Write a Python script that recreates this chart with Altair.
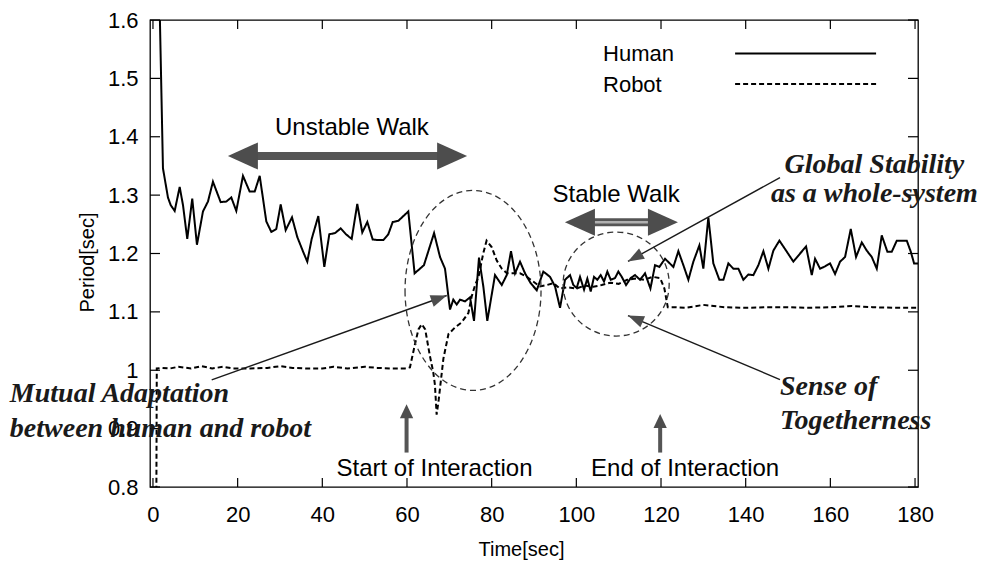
import altair as alt
import pandas as pd

# ---------------- data ----------------
human_t = [1.5, 2.36, 3.54, 4.18, 5.13, 6.31, 7.09, 8.10, 9.28, 10.39, 11.81, 12.99, 14.17, 15.99,
           17.32, 18.50, 19.68, 21.26, 22.84, 24.03, 25.21, 26.77, 27.95, 29.13, 30.17, 31.35,
           32.84, 34.1, 35.5, 36.45, 37.49, 39.05, 40.47, 41.65, 43.0, 44.34, 45.59, 46.94, 48.26,
           49.44, 50.63, 51.9, 53.23, 54.41, 55.59, 56.63, 57.95, 60.31, 61.8, 64.0, 66.4, 67.8,
           68.98, 70.16, 70.94, 71.75, 72.53, 73.71, 74.89, 75.83, 77.01, 78.03, 78.97, 80.79,
           82.38, 83.56, 84.57, 85.52, 86.7, 87.88, 89.23, 90.65, 92.21, 93.79, 94.97, 96.15,
           97.33, 98.51, 99.29, 100.09, 100.87, 101.82, 102.6, 103.4, 104.18, 104.96, 105.76,
           106.54, 107.32, 108.13, 109.14, 109.92, 110.73, 111.74, 112.85, 113.87, 115.05,
           116.23, 117.5, 118.59, 119.61, 120.95, 122.92, 124.1, 125.28, 126.46, 127.64, 129.06,
           130.0, 131.18, 132.36, 133.78, 134.73, 135.91, 137.09, 138.27, 139.45, 140.63, 141.81,
           143.0, 144.18, 145.36, 146.54, 147.96, 149.54, 151.26, 152.85, 154.26, 155.61, 156.39,
           157.57, 158.75, 159.93, 161.11, 162.29, 163.47, 164.82, 166.07, 167.42, 168.6, 169.78,
           170.96, 172.14, 173.47, 174.5, 175.69, 178.05, 179.0, 179.78, 180.7]
human_v = [1.65, 1.346, 1.296, 1.283, 1.273, 1.314, 1.283, 1.225, 1.294, 1.215, 1.272, 1.289, 1.323, 1.288,
           1.289, 1.296, 1.273, 1.333, 1.306, 1.306, 1.333, 1.255, 1.237, 1.242, 1.284, 1.240,
           1.262, 1.228, 1.2025, 1.186, 1.225, 1.264, 1.177, 1.233, 1.235, 1.243, 1.233, 1.225, 1.285,
           1.236, 1.254, 1.224, 1.223, 1.223, 1.233, 1.254, 1.256, 1.272, 1.166, 1.18, 1.235, 1.194,
           1.174, 1.104, 1.121, 1.1125, 1.121, 1.118, 1.125, 1.0845, 1.193, 1.1435, 1.0845, 1.163,
           1.146, 1.163, 1.204, 1.166, 1.186, 1.166, 1.149, 1.137, 1.169, 1.16, 1.1435, 1.107,
           1.155, 1.163, 1.146, 1.141, 1.16, 1.138, 1.157, 1.135, 1.16, 1.155, 1.163,
           1.152, 1.169, 1.155, 1.158, 1.169, 1.16, 1.146, 1.158, 1.163, 1.155,
           1.166, 1.14, 1.18, 1.177, 1.191, 1.177, 1.204, 1.18, 1.155, 1.186, 1.214,
           1.174, 1.262, 1.183, 1.155, 1.155, 1.183, 1.174, 1.174, 1.155, 1.164, 1.163,
           1.18, 1.204, 1.174, 1.205, 1.222, 1.205, 1.186, 1.2, 1.212, 1.163, 1.191,
           1.174, 1.178, 1.183, 1.165, 1.186, 1.194, 1.242, 1.194, 1.219, 1.205, 1.194,
           1.174, 1.231, 1.203, 1.203, 1.222, 1.222, 1.203, 1.183, 1.183]

robot_t = [0.8, 0.9, 2, 4, 6, 9, 11.5, 14, 16.6, 19, 23, 27, 30, 33, 36, 40, 42.6, 46, 50, 53, 56,
           59.5, 60.7, 61.9, 62.7, 63.5, 64.3, 65.4, 66.2, 66.6, 67.0, 67.5, 68.6, 69.8, 71.3,
           72.9, 74.5, 75.3, 76.1, 76.9, 78.0, 78.8, 80.0, 81.2, 82.4, 83.6, 85.1, 86.7, 88.3,
           89.8, 91.4, 93.0, 94.6, 96.1, 98, 100, 102, 104, 106, 108, 110, 112, 114, 116, 118,
           119.8, 120.8, 121.6, 123, 126, 130, 135, 140, 145, 150, 155, 160, 165, 170, 175, 180.7]
robot_v = [0.78, 1.003, 1.004, 1.003, 1.006, 1.003, 1.007, 1.003, 1.006, 1.003, 1.003, 1.004, 1.007,
           1.004, 1.003, 1.003, 1.006, 1.003, 1.006, 1.004, 1.003,
           1.003, 1.005, 1.045, 1.07, 1.079, 1.07, 1.025, 0.997, 0.975, 0.924, 0.95, 1.02, 1.062, 1.073,
           1.082, 1.098, 1.127, 1.146, 1.16, 1.2, 1.222, 1.211, 1.188, 1.174, 1.166, 1.166, 1.166, 1.16,
           1.152, 1.1435, 1.146, 1.149, 1.14, 1.142, 1.14, 1.145, 1.143, 1.146, 1.15, 1.148, 1.155,
           1.157, 1.155, 1.16,
           1.158, 1.14, 1.108, 1.108, 1.107, 1.112, 1.108, 1.107, 1.108, 1.108, 1.107, 1.108, 1.11,
           1.108, 1.107, 1.107]

series_names = ["Human", "Robot"]
x_ticks = [0, 20, 40, 60, 80, 100, 120, 140, 160, 180]
y_ticks = [0.8, 0.9, 1.0, 1.1, 1.2, 1.3, 1.4, 1.5, 1.6]

assert len(human_t) == len(human_v)
assert len(robot_t) == len(robot_v)

# ---------------- layout / style ----------------
W, H = 768, 467
SANS = "Liberation Sans"
SERIF = "Liberation Serif"
GRAY = "#4d4d4d"
xs = alt.Scale(domain=[-0.7, 180.7], nice=False, zero=False)
ys = alt.Scale(domain=[0.8, 1.6], nice=False, zero=False)

x_axis = alt.Axis(
    values=x_ticks, title="Time[sec]", ticks=False, domain=False, grid=False,
    labelFont=SANS, labelFontSize=22, labelColor="black", labelPadding=17,
    titleFont=SANS, titleFontSize=20, titleFontWeight="normal", titleColor="black",
    titlePadding=14, titleX=371)
y_axis = alt.Axis(
    values=y_ticks, title="Period[sec]", ticks=False, domain=False, grid=False,
    labelExpr="datum.value == 1 ? '1' : format(datum.value, '.1f')",
    labelFont=SANS, labelFontSize=22, labelColor="black", labelPadding=12,
    titleFont=SANS, titleFontSize=20, titleFontWeight="normal", titleColor="black",
    titlePadding=10, titleY=242)
xq = alt.X("t:Q", scale=xs, axis=x_axis)
yq = alt.Y("v:Q", scale=ys, axis=y_axis)

series = pd.DataFrame({
    "t": human_t + robot_t,
    "v": human_v + robot_v,
    "s": [series_names[0]] * len(human_t) + [series_names[1]] * len(robot_t),
})
dash_scale = alt.Scale(domain=series_names, range=[[1, 0], [5, 3]])

lines = alt.Chart(series).mark_line(clip=True, color="black", strokeWidth=2).encode(
    x=xq, y=yq,
    strokeDash=alt.StrokeDash("s:N", scale=dash_scale, legend=None),
    order="t:Q",
)

# inward ticks on all four sides
xt = pd.DataFrame({"t": x_ticks})
yt = pd.DataFrame({"v": y_ticks})
tick_b = alt.Chart(xt).mark_rule(color="black", strokeWidth=1.2).encode(x=xq, y=alt.value(H), y2=alt.value(H - 9))
tick_t = alt.Chart(xt).mark_rule(color="black", strokeWidth=1.2).encode(x=xq, y=alt.value(0), y2=alt.value(9))
tick_l = alt.Chart(yt).mark_rule(color="black", strokeWidth=1.2).encode(y=yq, x=alt.value(0), x2=alt.value(10))
tick_r = alt.Chart(yt).mark_rule(color="black", strokeWidth=1.2).encode(y=yq, x=alt.value(W), x2=alt.value(W - 10))

# ---------------- legend (manual) ----------------
leg_text = pd.DataFrame({"t": [106.3, 106.3], "v": [1.541, 1.489], "label": series_names})
leg_lines = pd.DataFrame({"t": [137.5, 137.5], "t2": [170.8, 170.8], "v": [1.5426, 1.4903], "s": series_names})
legend_txt = alt.Chart(leg_text).mark_text(font=SANS, fontSize=22, align="left", baseline="middle",
                                          color="black").encode(x=xq, y=yq, text="label:N")
legend_ln = alt.Chart(leg_lines).mark_rule(color="black", strokeWidth=2).encode(
    x=xq, x2="t2:Q", y=yq,
    strokeDash=alt.StrokeDash("s:N", scale=dash_scale, legend=None))

# ---------------- annotations ----------------
plain_text = pd.DataFrame({
    "t": [47.0, 109.4, 66.5, 125.7],
    "v": [1.4143, 1.2996, 0.8304, 0.8304],
    "label": ["Unstable Walk", "Stable Walk", "Start of Interaction", "End of Interaction"],
})
plain = alt.Chart(plain_text).mark_text(font=SANS, fontSize=24, align="center", baseline="middle",
                                        color="black").encode(x=xq, y=yq, text="label:N")

bi_left = pd.DataFrame({
    "t": [-33.8, -33.8, 148.1, 148.1],
    "v": [0.9587, 0.8996, 0.972, 0.913],
    "label": ["Mutual Adaptation", "between human and robot", "Sense of", "Togetherness"],
})
bi_center = pd.DataFrame({
    "t": [170.4, 170.4],
    "v": [1.352, 1.3013],
    "label": ["Global Stability", "as a whole-system"],
})
bold_left = alt.Chart(bi_left).mark_text(font=SERIF, fontSize=28, fontStyle="italic", fontWeight="bold",
                                         align="left", baseline="middle", color="#1a1a1a").encode(
    x=xq, y=yq, text="label:N")
bold_center = alt.Chart(bi_center).mark_text(font=SERIF, fontSize=28, fontStyle="italic", fontWeight="bold",
                                             align="center", baseline="middle", color="#1a1a1a").encode(
    x=xq, y=yq, text="label:N")

# thick double arrows (Unstable / Stable walk)
shafts = pd.DataFrame({"t": [20.0, 99.5], "t2": [72.0, 121.8], "v": [1.367, 1.2535]})
shaft = alt.Chart(shafts).mark_rule(color="#555555", strokeWidth=8).encode(x=xq, x2="t2:Q", y=yq)
inner = pd.DataFrame({"t": [103.9], "t2": [117.4], "v": [1.2535]})
shaft_in = alt.Chart(inner).mark_rule(color="#b0b0b0", strokeWidth=2.5).encode(x=xq, x2="t2:Q", y=yq)

HEAD_L = "M 0 0 L 2 -0.9 L 2 0.9 Z"
HEAD_R = "M 0 0 L -2 -0.9 L -2 0.9 Z"
heads_l = pd.DataFrame({"t": [17.7, 97.3], "v": [1.367, 1.2535]})
heads_r = pd.DataFrame({"t": [74.2, 124.0], "v": [1.367, 1.2535]})
hl = alt.Chart(heads_l).mark_point(shape=HEAD_L, size=900, filled=True, opacity=1, color=GRAY,
                                   strokeWidth=0).encode(x=xq, y=yq)
hr = alt.Chart(heads_r).mark_point(shape=HEAD_R, size=900, filled=True, opacity=1, color=GRAY,
                                   strokeWidth=0).encode(x=xq, y=yq)

# vertical interaction arrows
vert = pd.DataFrame({"t": [59.9, 119.8], "v": [0.859, 0.859], "v2": [0.925, 0.91]})
vshaft = alt.Chart(vert).mark_rule(color="#555555", strokeWidth=4).encode(x=xq, y=yq, y2="v2:Q")
HEAD_U = "M 0 0 L -0.95 2 L 0.95 2 Z"
vtips = pd.DataFrame({"t": [59.9, 119.8], "v": [0.9418, 0.925]})
vhead = alt.Chart(vtips).mark_point(shape=HEAD_U, size=196, filled=True, opacity=1, color=GRAY,
                                    strokeWidth=0).encode(x=xq, y=yq)

# thin pointer lines with arrowheads
pointers = pd.DataFrame({
    "t": [13.87, 148.1, 148.1], "v": [0.9835, 1.33, 0.984],
    "t2": [69.38, 112.2, 112.2], "v2": [1.128, 1.1865, 1.0937],
})
pline = alt.Chart(pointers).mark_rule(color="#1a1a1a", strokeWidth=1.4).encode(
    x=xq, y=yq, x2="t2:Q", y2="v2:Q")
ptips = pd.DataFrame({"t": [69.38, 112.2, 112.2], "v": [1.128, 1.1865, 1.0937], "a": [340, 151, 203]})
HEAD_P = "M 0 0 L -2 -0.75 L -2 0.75 Z"
phead = alt.Chart(ptips).mark_point(shape=HEAD_P, size=256, filled=True, opacity=1, color=GRAY,
                                    strokeWidth=0).encode(x=xq, y=yq, angle=alt.Angle("a:Q", scale=None))

# dashed ellipses
ELL1 = "M -0.68 0 A 0.68 1 0 1 0 0.68 0 A 0.68 1 0 1 0 -0.68 0 Z"
ELL2 = "M -1.02 0 A 1.02 1 0 1 0 1.02 0 A 1.02 1 0 1 0 -1.02 0 Z"
e1 = alt.Chart(pd.DataFrame({"t": [75.6], "v": [1.1367]})).mark_point(
    shape=ELL1, size=40000, filled=False, opacity=1, color="#333333", strokeWidth=1.3,
    strokeDash=[6, 4]).encode(x=xq, y=yq)
e2 = alt.Chart(pd.DataFrame({"t": [109.4], "v": [1.1477]})).mark_point(
    shape=ELL2, size=10816, filled=False, opacity=1, color="#333333", strokeWidth=1.3,
    strokeDash=[6, 4]).encode(x=xq, y=yq)

chart = alt.layer(
    lines, tick_b, tick_t, tick_l, tick_r, legend_ln, legend_txt,
    e1, e2, shaft, shaft_in, hl, hr, vshaft, vhead, pline, phead,
    plain, bold_left, bold_center,
).properties(
    width=W, height=H,
    autosize=alt.AutoSizeParams(type="none"),
    padding={"left": 142, "top": 12, "right": 69, "bottom": 75},
    background="white",
).configure_view(stroke="black", strokeWidth=1.3)

chart.save("out.html", embed_options={"renderer": "svg", "actions": False})
